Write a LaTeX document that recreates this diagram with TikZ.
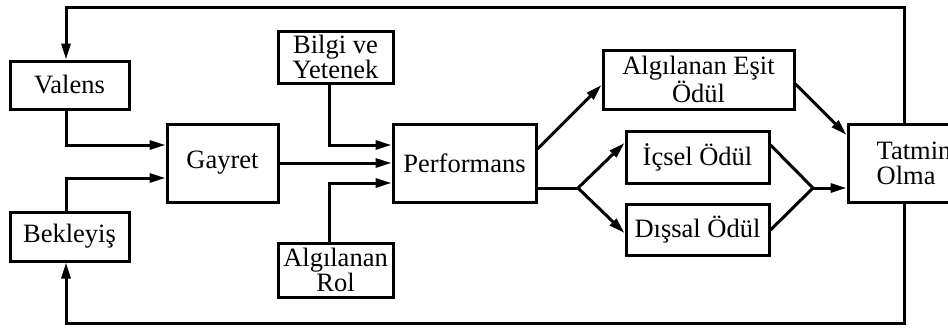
\documentclass[tikz,border=0pt]{standalone}
\usepackage{fontspec}
\setmainfont{Liberation Serif}
\usetikzlibrary{arrows.meta,calc}
\begin{document}
\begin{tikzpicture}[x=1pt,y=-1pt,
  box/.style={draw,line width=3pt,inner sep=0pt,align=center,font=\fontsize{26.5}{25}\selectfont},
  conn/.style={line width=3pt},
  arr/.style={conn,-{Triangle[length=16pt,width=9pt]}}]
\clip (0,0) rectangle (948,327);
\fill[white] (0,0) rectangle (948,327);
\node[box,minimum width=119,minimum height=48] (val) at (69.5,85) {Valens};
\node[box,minimum width=119,minimum height=49] (bek) at (69.5,236.5) {Bekleyiş};
\node[box,minimum width=111,minimum height=78] (gay) at (222.5,163) {Gayret};
\node[box,minimum width=115,minimum height=52] (bil) at (335.5,57) {Bilgi ve\\Yetenek};
\node[box,minimum width=115,minimum height=54] (rol) at (335.5,270) {Algılanan\\Rol};
\node[box,minimum width=143,minimum height=78] (perf) at (464.5,163) {Performans};
\node[box,minimum width=191,minimum height=59] (aes) at (698.5,79.5) {Algılanan Eşit\\Ödül};
\node[box,minimum width=143,minimum height=52] (ic) at (697.5,157) {İçsel Ödül};
\node[box,minimum width=143,minimum height=51] (dis) at (697.5,229.5) {Dışsal Ödül};
\node[box,align=left,minimum width=132,minimum height=78] (tat) at (914,163) {Tatmin\\Olma};
\coordinate (tl) at (66,7.5);
\coordinate (tr) at (904,7.5);
\coordinate (bl) at (66,323);
\coordinate (br) at (904,323);
\coordinate (j1) at (578,188);
\coordinate (j2) at (813,188);
% feedback loops
\draw[arr] (tr |- tat.north) -- (tr) -- (tl) -- (tl |- val.north);
\draw[arr] (br |- tat.south) -- (br) -- (bl) -- (bl |- bek.south);
% into Gayret
\draw[arr] (tl |- val.south) |- ($(gay.west)+(0,-18)$);
\draw[arr] (bl |- bek.north) |- ($(gay.west)+(0,15)$);
% into Performans
\draw[arr] ($(bil.south)+(-6.5,0)$) |- ($(perf.west)+(0,-18)$);
\draw[arr] (gay.east) -- (perf.west);
\draw[arr] ($(rol.north)+(-6.5,0)$) |- ($(perf.west)+(0,20)$);
% out of Performans
\draw[arr] ($(perf.east)+(0,-14)$) -- ($(aes.west)+(0,5.5)$);
\draw[conn] ($(perf.east)+(0,25)$) -- (j1);
\draw[arr] (j1) -- ($(ic.west)+(0,-14)$);
\draw[arr] (j1) -- ($(dis.west)+(0,3.5)$);
% into Tatmin
\draw[arr] ($(aes.east)+(0,4.5)$) -- ($(tat.west)+(0,-28)$);
\draw[conn,line join=miter] ($(ic.east)+(0,-12)$) -- (j2) -- ($(dis.east)+(0,0.5)$);
\draw[arr] (j2) -- ($(tat.west)+(0,25)$);
\end{tikzpicture}
\end{document}
